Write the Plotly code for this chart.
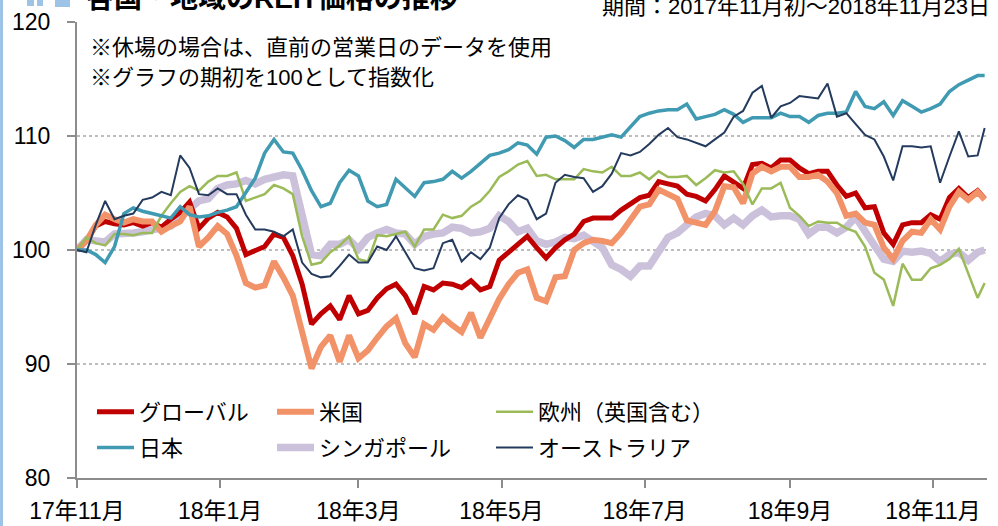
import pandas as pd
import plotly.graph_objects as go

# ---------------- data (index = 100 at start) ----------------
start_date = "2017-11-01"
end_date = "2018-11-23"
dates = [d.strftime("%Y-%m-%d") for d in pd.date_range(start_date, periods=97, freq="4D")] + [end_date]

global_reit = [100.0, 100.8, 102.1, 102.5, 102.3, 102.2, 102.4, 102.1, 102.4, 102.0,
               102.7, 103.3, 104.2, 101.9, 102.8, 103.3, 102.9, 101.9, 99.6, 100.0,
               100.3, 101.4, 101.1, 99.5, 97.0, 93.5, 94.4, 95.1, 93.9, 96.0,
               94.4, 94.7, 95.8, 96.6, 97.0, 96.0, 94.4, 96.8, 96.5, 97.1,
               97.0, 96.7, 97.3, 96.5, 96.8, 99.1, 99.8, 100.6, 101.2, 100.2,
               99.3, 100.2, 100.9, 101.4, 102.5, 102.8, 102.8, 102.8, 103.5, 104.1,
               104.6, 104.8, 106.0, 105.8, 105.6, 104.9, 104.7, 104.3, 105.3, 106.5,
               106.0, 105.4, 107.5, 107.6, 107.2, 107.9, 107.9, 107.2, 106.7, 106.9,
               106.9, 105.7, 104.7, 105.0, 103.7, 103.8, 101.5, 100.5, 102.2, 102.4,
               102.4, 103.1, 102.7, 104.6, 105.4, 104.6, 105.2, 104.5]

us_reit = [100.0, 100.8, 102.2, 103.1, 102.7, 102.4, 102.7, 102.5, 102.5, 101.6,
           102.1, 102.5, 103.8, 100.3, 101.1, 102.1, 101.4, 99.5, 97.1, 96.7,
           96.9, 99.0, 97.6, 96.0, 92.8, 89.6, 91.5, 92.5, 90.2, 92.5,
           90.5, 91.2, 92.3, 93.3, 94.0, 91.8, 90.6, 93.5, 93.0, 94.1,
           93.4, 92.8, 94.5, 92.3, 94.0, 95.7, 97.0, 98.0, 98.3, 95.8,
           95.5, 97.6, 97.7, 100.0, 100.6, 100.9, 100.8, 100.6, 101.5, 102.6,
           103.8, 104.0, 105.3, 104.9, 104.5, 102.6, 102.4, 102.2, 103.4, 105.6,
           105.5, 104.1, 106.7, 107.3, 106.9, 107.3, 107.3, 106.4, 106.4, 106.6,
           106.0, 105.0, 103.0, 103.2, 102.4, 102.2, 100.2, 99.2, 100.8, 101.6,
           101.5, 102.7, 101.8, 103.8, 105.1, 104.4, 105.1, 104.4]

europe_reit = [100.0, 101.1, 100.6, 100.4, 101.4, 101.4, 101.3, 101.5, 101.5, 103.0,
               104.1, 105.1, 105.6, 105.2, 106.0, 106.5, 106.5, 106.8, 104.3, 104.6,
               104.9, 105.7, 105.4, 104.9, 101.2, 98.7, 98.9, 99.8, 100.4, 101.2,
               99.2, 99.0, 101.3, 101.2, 101.4, 101.6, 100.3, 101.8, 101.8, 103.1,
               102.8, 103.0, 103.8, 104.3, 105.2, 106.4, 106.9, 107.5, 107.8, 106.5,
               106.6, 106.2, 106.2, 106.2, 107.1, 106.9, 106.8, 107.3, 106.5, 106.5,
               106.8, 106.2, 106.9, 106.4, 106.4, 106.5, 105.7, 106.3, 107.0, 106.8,
               106.9, 105.8, 104.0, 105.4, 105.4, 105.9, 103.7, 103.0, 102.1, 102.5,
               102.4, 102.4, 101.9, 101.6, 100.3, 98.0, 97.4, 95.1, 98.8, 97.4,
               97.4, 98.4, 98.7, 99.2, 100.1, 98.0, 95.8, 97.1]

japan_reit = [100.0, 100.0, 99.6, 98.9, 100.3, 103.2, 103.7, 103.4, 103.2, 103.0,
              102.8, 103.8, 103.1, 102.9, 103.0, 103.3, 103.5, 103.8, 105.1, 106.3,
              108.5, 109.7, 108.6, 108.5, 107.0, 105.2, 103.8, 104.1, 105.9, 107.0,
              106.5, 104.3, 103.8, 104.0, 106.2, 105.5, 104.7, 105.9, 106.0, 106.2,
              106.9, 106.3, 106.9, 107.6, 108.3, 108.5, 108.8, 109.4, 109.2, 108.4,
              109.9, 110.0, 109.6, 109.0, 109.7, 109.7, 109.9, 110.1, 109.9, 110.8,
              111.7, 112.0, 112.2, 112.3, 112.3, 112.8, 111.5, 111.7, 111.9, 112.3,
              111.9, 111.2, 111.6, 111.6, 111.6, 112.0, 111.7, 111.7, 111.2, 111.8,
              112.0, 112.0, 112.1, 113.9, 112.6, 112.4, 113.0, 111.8, 113.1, 112.6,
              112.1, 112.4, 112.8, 113.9, 114.5, 114.9, 115.3, 115.3]

singapore_reit = [100.0, 100.9, 100.8, 100.7, 101.4, 101.4, 101.5, 101.6, 101.8, 101.9,
                  102.1, 102.9, 103.7, 104.3, 104.5, 105.4, 105.7, 105.8, 106.1, 105.8,
                  106.2, 106.4, 106.6, 106.5, 102.7, 99.6, 99.5, 100.5, 100.5, 100.9,
                  100.1, 101.1, 101.5, 101.8, 101.5, 101.4, 100.5, 101.2, 101.4, 101.5,
                  102.0, 101.9, 101.5, 101.6, 101.9, 103.0, 102.5, 101.6, 101.9, 100.8,
                  100.5, 100.7, 101.1, 101.0, 101.3, 100.7, 100.2, 98.7, 98.3, 97.7,
                  98.6, 98.6, 100.0, 101.1, 101.5, 102.3, 102.9, 103.2, 103.0, 102.2,
                  102.8, 102.2, 103.0, 103.5, 102.9, 103.0, 103.0, 102.7, 101.4, 102.0,
                  102.0, 101.5, 102.0, 102.9, 101.5, 100.4, 99.2, 99.0, 99.9, 99.8,
                  99.9, 99.7, 99.0, 99.6, 99.8, 99.1, 99.8, 100.0]

australia_reit = [100.0, 99.8, 102.2, 104.3, 102.7, 103.0, 103.2, 104.4, 104.6, 105.1,
                  104.8, 108.3, 107.2, 104.9, 104.8, 105.4, 104.9, 104.9, 103.1, 101.8,
                  101.8, 101.6, 101.2, 101.8, 98.9, 97.9, 97.6, 97.7, 98.6, 99.6,
                  98.9, 98.9, 100.3, 100.0, 101.2, 99.8, 98.4, 98.2, 98.4, 100.6,
                  100.9, 99.0, 99.8, 99.2, 100.2, 102.8, 104.0, 104.8, 104.4, 102.7,
                  103.2, 105.9, 106.6, 106.4, 106.3, 105.1, 105.6, 106.7, 108.5, 108.3,
                  108.6, 109.3, 110.1, 110.7, 109.9, 109.7, 109.4, 109.1, 109.7, 110.3,
                  111.7, 112.2, 113.8, 114.4, 111.6, 112.6, 112.9, 113.5, 113.4, 113.3,
                  114.6, 111.7, 112.0, 111.0, 110.1, 109.7, 108.2, 106.1, 109.1, 109.1,
                  109.0, 109.1, 105.9, 108.2, 110.4, 108.2, 108.3, 110.7]

tick_dates = ["2017-11-01", "2018-01-01", "2018-03-01", "2018-05-01",
              "2018-07-01", "2018-09-01", "2018-11-01"]
tick_labels = ["17年11月", "18年1月", "18年3月", "18年5月", "18年7月", "18年9月", "18年11月"]
y_ticks = [80, 90, 100, 110, 120]

# ---------------- figure ----------------
FONT = "Liberation Sans, Arial, Noto Sans CJK JP, sans-serif"
W, H = 998, 526
ML, MR, MT, MB = 77, 11, 22, 48
PW, PH = W - ML - MR, H - MT - MB


def px_x(x):
    return (x - ML) / PW


def px_y(y):
    return (H - MB - y) / PH


series = [
    # name, values, colour, width, legend
    ("シンガポール", singapore_reit, "#CCC1DA", 7.5, "legend2"),
    ("グローバル", global_reit, "#C00000", 5, "legend"),
    ("米国", us_reit, "#F29268", 6, "legend2"),
    ("欧州（英国含む）", europe_reit, "#9BBB59", 2.5, "legend3"),
    ("日本", japan_reit, "#3F9AB2", 3.5, "legend"),
    ("オーストラリア", australia_reit, "#243B5E", 2, "legend3"),
]
legend_rank = {"グローバル": 1, "日本": 2, "米国": 1, "シンガポール": 2,
               "欧州（英国含む）": 1, "オーストラリア": 2}

fig = go.Figure()
for name, vals, color, width, leg in series:
    fig.add_trace(go.Scatter(
        x=dates, y=vals, name=name, mode="lines",
        line=dict(color=color, width=width),
        legend=leg, legendrank=legend_rank[name], legendgroup=name,
        hoverinfo="skip",
    ))

legend_common = dict(orientation="v", xanchor="left", yanchor="top",
                     bgcolor="rgba(0,0,0,0)", borderwidth=0,
                     font=dict(family=FONT, size=22, color="#000000"),
                     itemwidth=37, tracegroupgap=4, traceorder="grouped")

fig.update_layout(
    template="none",
    width=W, height=H,
    margin=dict(l=ML, r=MR, t=MT, b=MB, pad=0),
    paper_bgcolor="white", plot_bgcolor="white",
    font=dict(family=FONT, size=22, color="#000000"),
    showlegend=True,
    legend=dict(x=px_x(92), y=px_y(391), **legend_common),
    legend2=dict(x=px_x(272), y=px_y(391), **legend_common),
    legend3=dict(x=px_x(491), y=px_y(391), **legend_common),
    xaxis=dict(
        type="date", range=["2017-11-01", "2018-11-24"],
        tickvals=tick_dates, ticktext=tick_labels,
        showgrid=False, zeroline=False, automargin=False,
        showline=True, linecolor="#8C8C8C", linewidth=2,
        ticks="outside", ticklen=8, tickwidth=2, tickcolor="#8C8C8C",
        tickfont=dict(family=FONT, size=23, color="#000000"),
        ticklabelstandoff=3,
    ),
    yaxis=dict(
        range=[80, 120], tickvals=y_ticks,
        showgrid=True, gridcolor="#BDBDBD", gridwidth=1.5, griddash="dot",
        zeroline=False, automargin=False,
        showline=True, linecolor="#8C8C8C", linewidth=2,
        ticks="outside", ticklen=8, tickwidth=2, tickcolor="#8C8C8C",
        tickfont=dict(family=FONT, size=23, color="#000000"),
        ticklabelstandoff=12,
    ),
    annotations=[
        dict(text="<b>各国・地域のREIT価格の推移</b>", xref="paper", yref="paper",
             x=px_x(84), y=px_y(-1), xanchor="left", yanchor="middle",
             showarrow=False, font=dict(family=FONT, size=28, color="#000000")),
        dict(text="期間：2017年11月初～2018年11月23日", xref="paper", yref="paper",
             x=px_x(992), y=px_y(7), xanchor="right", yanchor="middle",
             showarrow=False, font=dict(family=FONT, size=22, color="#000000")),
        dict(text="※休場の場合は、直前の営業日のデータを使用", xref="paper", yref="paper",
             x=px_x(88), y=px_y(47), xanchor="left", yanchor="middle",
             showarrow=False, font=dict(family=FONT, size=22, color="#000000")),
        dict(text="※グラフの期初を100として指数化", xref="paper", yref="paper",
             x=px_x(88), y=px_y(77), xanchor="left", yanchor="middle",
             showarrow=False, font=dict(family=FONT, size=22, color="#000000")),
    ],
    shapes=[
        dict(type="rect", xref="paper", yref="paper", x0=px_x(0), x1=px_x(3),
             y0=px_y(H), y1=px_y(0), fillcolor="#9DC3E6", line=dict(width=0), layer="above"),
        dict(type="rect", xref="paper", yref="paper", x0=px_x(27), x1=px_x(34),
             y0=px_y(6), y1=px_y(0), fillcolor="#9DC3E6", line=dict(width=0), layer="above"),
        dict(type="rect", xref="paper", yref="paper", x0=px_x(37), x1=px_x(43),
             y0=px_y(6), y1=px_y(0), fillcolor="#9DC3E6", line=dict(width=0), layer="above"),
        dict(type="rect", xref="paper", yref="paper", x0=px_x(55), x1=px_x(70),
             y0=px_y(7), y1=px_y(0), fillcolor="#9DC3E6", line=dict(width=0), layer="above"),
    ],
)

fig.write_html("out.html", include_plotlyjs=True, config={"displayModeBar": False},
               post_script="document.body.style.margin='0';document.body.style.overflow='hidden';")
